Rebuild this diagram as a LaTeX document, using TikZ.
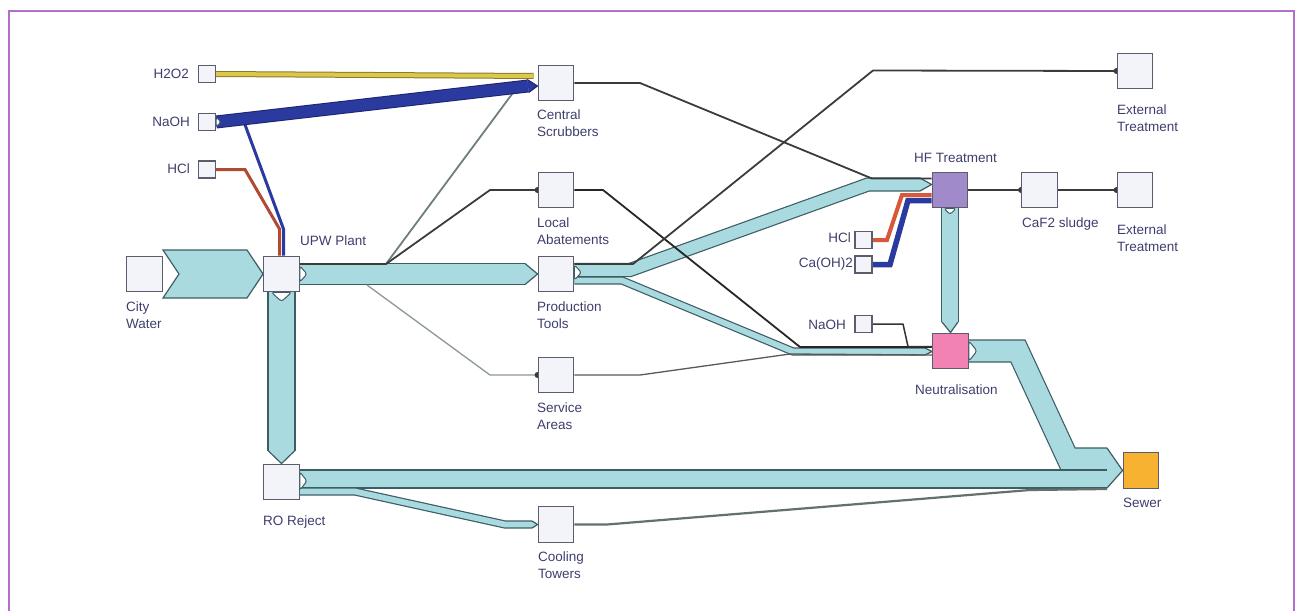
\documentclass[tikz,border=0pt]{standalone}
\usepackage{fontspec}
\setmainfont{Liberation Sans}
\usetikzlibrary{calc}
\definecolor{bandc}{HTML}{A8DAE0}
\definecolor{edgec}{HTML}{3E5C64}
\definecolor{boxfill}{HTML}{F3F3FA}
\definecolor{boxedge}{HTML}{5C5C6C}
\definecolor{txt}{HTML}{3E3E6E}
\definecolor{frm}{HTML}{B070C8}
\definecolor{naoh}{HTML}{2A3A9E}
\definecolor{naohedge}{HTML}{1C2670}
\definecolor{yel}{HTML}{DCC84A}
\definecolor{yeledge}{HTML}{8C7A2C}
\definecolor{hclc}{HTML}{B04A32}
\definecolor{hcltwo}{HTML}{D8583A}
\definecolor{lined}{HTML}{3A3C3C}
\definecolor{lineg}{HTML}{6E7E78}
\definecolor{hfc}{HTML}{A08ACA}
\definecolor{neutc}{HTML}{F282B4}
\definecolor{sewc}{HTML}{F7B232}
\pgfdeclarelayer{back}
\pgfsetlayers{back,main}
\begin{document}
\begin{tikzpicture}[x=1pt,y=-1pt,
 box/.style={draw=boxedge, fill=boxfill, line width=1.4pt, minimum size=35.5pt, inner sep=0pt},
 sbox/.style={draw=boxedge, fill=boxfill, line width=1.3pt, minimum size=17pt, inner sep=0pt},
 lab/.style={text=txt, font=\fontsize{13.5}{17}\selectfont, inner sep=0pt, align=left, anchor=north west},
 clab/.style={text=txt, font=\fontsize{13.5}{17}\selectfont, inner sep=0pt, anchor=east},
 band/.style={line width=1.2pt, draw=edgec, double=bandc, line join=miter},
 tipf/.style={fill=bandc},
 tipe/.style={draw=edgec, line width=1.2pt, line join=miter},
 notch/.style={fill=white, draw=edgec, line width=1pt, rounded corners=2.5pt},
 conn/.style={line width=1.8pt, draw=lined, line join=round},
 dot/.style={fill=lined},
]
\useasboundingbox (0,0) rectangle (1300,610);
\draw[frm, line width=2pt] (9,640) -- (9,11) -- (1294,11) -- (1294,640);

% boxes
\node[sbox] (h2o2) at (207,74) {};
\node[sbox] (naohL) at (207,122) {};
\node[sbox] (hclL) at (207,169.5) {};
\node[box] (city) at (144.5,274) {};
\node[box] (upw) at (281.5,274) {};
\node[box] (cs) at (556,83) {};
\node[box] (la) at (556,190) {};
\node[box] (pt) at (556,274) {};
\node[box] (sa) at (556,375) {};
\node[box] (ro) at (281.5,482) {};
\node[box] (ct) at (556,524.5) {};
\node[box, fill=sewc] (sew) at (1141,470.5) {};
\node[box, fill=hfc] (hf) at (950,190) {};
\node[box] (caf) at (1039.5,190) {};
\node[box] (ext1) at (1135,71) {};
\node[box] (ext2) at (1135,190) {};
\node[box, fill=neutc] (neut) at (950.5,351) {};
\node[sbox] (hclR) at (863.5,240) {};
\node[sbox] (caoh) at (863.5,264.5) {};
\node[sbox] (naohR) at (863.5,324) {};

% labels
\node[clab] (t1) at (189,74) {H2O2};
\node[clab] (t2) at (190,122) {NaOH};
\node[clab] (t3) at (190,169) {HCl};
\node[lab] (t4) at (126,302) {City\\Water};
\node[lab] (t5) at (300,236) {UPW Plant};
\node[lab] (t6) at (537,110) {Central\\Scrubbers};
\node[lab] (t7) at (537,218) {Local\\Abatements};
\node[lab] (t8) at (537,302) {Production\\Tools};
\node[lab] (t9) at (537,403) {Service\\Areas};
\node[lab] (t10) at (263,516) {RO Reject};
\node[lab] (t11) at (538,552) {Cooling\\Towers};
\node[lab] (t12) at (1123,498) {Sewer};
\node[lab] (t13) at (915,385) {Neutralisation};
\node[lab] (t14) at (914,153) {HF Treatment};
\node[lab] (t15) at (1022,218) {CaF2 sludge};
\node[lab] (t16) at (1117,105) {External\\Treatment};
\node[lab] (t17) at (1117,225) {External\\Treatment};
\node[clab] (t18) at (851,238) {HCl};
\node[clab] (t19) at (853,264) {Ca(OH)2};
\node[clab] (t20) at (846,325) {NaOH};

\begin{pgfonlayer}{back}
% city water -> UPW
\filldraw[fill=bandc, draw=edgec, line width=1.2pt, line join=miter]
  (163,250) -- (247,250) -- (upw.west) -- (247,298) -- (163,298) -- (179,274) -- cycle;
% UPW -> production tools
\draw[band, double distance=19.8pt] (upw.east) -- (525,274);
\fill[tipf] (525,263.5) -- (pt.west) -- (525,284.5) -- cycle;
\draw[tipe] (525,263.5) -- (pt.west) -- (525,284.5);
% UPW -> RO reject
\draw[band, double distance=25.8pt] (upw.south) -- (281.5,451);
\fill[tipf] (268.5,451) -- (ro.north) -- (294.5,451) -- cycle;
\draw[tipe] (268.5,451) -- (ro.north) -- (294.5,451);
% production -> neutralisation
\draw[band, double distance=5.8pt] ($(pt.east)+(0,6.5)$) -- (622,280.5) -- (793,351.5) -- (925,351.5);
\fill[tipf] (925,348) -- ($(neut.west)+(0,0.5)$) -- (925,355) -- cycle;
\draw[tipe] (925,348) -- ($(neut.west)+(0,0.5)$) -- (925,355);
% production -> HF
\draw[band, double distance=11.8pt] ($(pt.east)+(0,-4)$) -- (630,270) -- (868,184.5) -- (920,184.5);
\fill[tipf] (920,178) -- ($(hf.west)+(0,-5.5)$) -- (920,191) -- cycle;
\draw[tipe] (920,178) -- ($(hf.west)+(0,-5.5)$) -- (920,191);
% HF -> neutralisation
\draw[band, double distance=15.8pt] (hf.south) -- (950,322);
\fill[tipf] (942,322) -- (neut.north) -- (958,322) -- cycle;
\draw[tipe] (942,322) -- (neut.north) -- (958,322);
% neutralisation -> sewer
\draw[band, double distance=20.8pt] (neut.east) -- (1018,351) -- (1068,459) -- (1107,459);
% RO -> sewer
\draw[band, double distance=16.8pt] ($(ro.east)+(0,-3)$) -- (1107,479);
\fill[tipf] (1107,448) -- (sew.west) -- (1107,488) -- cycle;
\draw[tipe] (1107,448) -- (sew.west) -- (1107,488);
% RO -> cooling towers
\draw[band, double distance=5.8pt] ($(ro.east)+(0,9.5)$) -- (355,491.5) -- (505,524.5) -- (532,524.5);
\fill[tipf] (532,521) -- (ct.west) -- (532,528) -- cycle;
\draw[tipe] (532,521) -- (ct.west) -- (532,528);

% thin connectors
\draw[conn, draw=lineg] ($(upw.east)+(0,-10)$) -- (386,264) -- (518,86);
\draw[conn] ($(upw.east)+(0,-10)$) -- (386,264) -- (490,190) -- (la.west);
\fill[dot] (la.west) circle (3pt);
\draw[conn, draw=lineg!80, line width=1.3pt] ($(upw.east)+(67,11)$) -- (490,375) -- (sa.west);
\fill[dot] (sa.west) circle (3pt);
\draw[conn] (cs.east) -- (640,83) -- (872,178.5) -- ($(hf.west)+(0,-11.5)$);
\draw[conn, draw=black!85] (la.east) -- (603,190) -- (800,347) -- ($(neut.west)+(0,-4)$);
\draw[conn] ($(pt.east)+(0,-10)$) -- (633,264) -- (873,70.5) -- (ext1.west);
\fill[dot] (ext1.west) circle (3pt);
\draw[conn, draw=gray!70!black, line width=1.3pt] (sa.east) -- (640,375) -- (790,354) -- ($(neut.west)+(0,4)$);
\draw[conn, line width=1.5pt, draw=black!80] (naohR.east) -- (903,324) -- (908,346.5) -- ($(neut.west)+(0,-4.5)$);
\draw[conn] (hf.east) -- (caf.west);
\fill[dot] (caf.west) circle (3pt);
\draw[conn] (caf.east) -- (ext2.west);
\fill[dot] (ext2.west) circle (3pt);
\draw[conn, draw=lineg!90!black, line width=2.2pt] (ct.east) -- (607,524.5) -- (1030,490) -- (1107,489);

% chemicals into HF
\draw[line width=4pt, draw=hcltwo, line join=miter] (hclR.east) -- (887,240) -- (902,195) -- ($(hf.west)+(0,5)$);
\draw[line width=5.5pt, draw=naoh, line join=miter] (caoh.east) -- (890,264.5) -- (908,200.5) -- ($(hf.west)+(0,10.5)$);

% chemicals left
\draw[line width=1pt, draw=yeledge, double=yel, double distance=4pt] (h2o2.east) -- ($(cs.west)+(-4,-7)$);
\draw[line width=3pt, draw=naoh, line join=miter] (244,122) -- (283.5,229) -- ($(upw.north)+(2,0)$);
\draw[line width=3pt, draw=hclc, line join=miter] (hclL.east) -- (245,169.5) -- (279.5,229) -- ($(upw.north)+(-2,0)$);
\draw[line width=1pt, draw=naohedge, double=naoh, double distance=11pt] (naohL.east) -- (528,86);
\fill[naoh] (527.3,79.5) -- ($(cs.west)+(0,3)$) -- (528.7,92.5) -- cycle;
\draw[naohedge, line width=1pt] (527.3,79.5) -- ($(cs.west)+(0,3)$) -- (528.7,92.5);
\end{pgfonlayer}

% notches (outlet ports)
\filldraw[notch] ($(naohL.east)+(0,-5)$) -- ($(naohL.east)+(5,0)$) -- ($(naohL.east)+(0,5)$) -- cycle;
\filldraw[notch] ($(upw.east)+(0,-8)$) -- ($(upw.east)+(7,0)$) -- ($(upw.east)+(0,8)$) -- cycle;
\filldraw[notch] ($(upw.south)+(-10,0)$) -- ($(upw.south)+(0,9)$) -- ($(upw.south)+(10,0)$) -- cycle;
\filldraw[notch] ($(pt.east)+(0,-9)$) -- ($(pt.east)+(7,-1.5)$) -- ($(pt.east)+(0,6)$) -- cycle;
\filldraw[notch] ($(ro.east)+(0,-10)$) -- ($(ro.east)+(7,-1)$) -- ($(ro.east)+(0,8)$) -- cycle;
\filldraw[notch] ($(hf.south)+(-6,0)$) -- ($(hf.south)+(0,6)$) -- ($(hf.south)+(6,0)$) -- cycle;
\filldraw[notch] ($(neut.east)+(0,-10)$) -- ($(neut.east)+(8,0)$) -- ($(neut.east)+(0,10)$) -- cycle;
\end{tikzpicture}
\end{document}
